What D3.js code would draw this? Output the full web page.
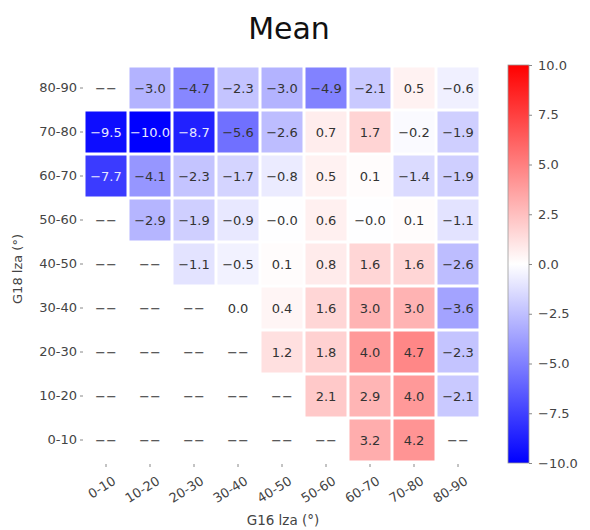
<!DOCTYPE html>
<html><head><meta charset="utf-8">
<script src="https://cdn.jsdelivr.net/npm/d3@7"></script>
<style>body{margin:0;background:#fff}svg{display:block}text{font-family:"DejaVu Sans",sans-serif}</style>
</head><body><svg id="c" width="590" height="530"></svg>
<script>
const xCats = ["0-10","10-20","20-30","30-40","40-50","50-60","60-70","70-80","80-90"];
const yCats = ["80-90","70-80","60-70","50-60","40-50","30-40","20-30","10-20","0-10"];
const row80_90 = [null,-3.0,-4.7,-2.3,-3.0,-4.9,-2.1,0.5,-0.6];
const row70_80 = [-9.5,-10.0,-8.7,-5.6,-2.6,0.7,1.7,-0.2,-1.9];
const row60_70 = [-7.7,-4.1,-2.3,-1.7,-0.8,0.5,0.1,-1.4,-1.9];
const row50_60 = [null,-2.9,-1.9,-0.9,-0.02,0.6,-0.02,0.1,-1.1];
const row40_50 = [null,null,-1.1,-0.5,0.1,0.8,1.6,1.6,-2.6];
const row30_40 = [null,null,null,0.0,0.4,1.6,3.0,3.0,-3.6];
const row20_30 = [null,null,null,null,1.2,1.8,4.0,4.7,-2.3];
const row10_20 = [null,null,null,null,null,2.1,2.9,4.0,-2.1];
const row0_10 = [null,null,null,null,null,null,3.2,4.2,null];
const rows = [row80_90,row70_80,row60_70,row50_60,row40_50,row30_40,row20_30,row10_20,row0_10];
const cbTicks = [10.0,7.5,5.0,2.5,0.0,-2.5,-5.0,-7.5,-10.0];
const title = "Mean", xLabel = "G16 lza (°)", yLabel = "G18 lza (°)";

const svg = d3.select("#c");
const L=84,R=480,T=66,B=462;
const x = d3.scaleBand().domain(xCats).range([L,R]);
const y = d3.scaleBand().domain(yCats).range([T,B]);
const color = d3.scaleLinear().domain([-10,0,10]).range(["#0000ff","#ffffff","#ff0000"]);
const fmt = v => (v<0?"\u2212":"") + Math.abs(v).toFixed(1);

const cells = [];
rows.forEach((r,i)=>r.forEach((v,j)=>cells.push({xc:xCats[j],yc:yCats[i],v})));
const g = svg.append("g");
g.selectAll("rect").data(cells.filter(d=>d.v!==null)).join("rect")
 .attr("x",d=>x(d.xc)+1.5).attr("y",d=>y(d.yc)+1.5)
 .attr("width",x.bandwidth()-3).attr("height",y.bandwidth()-3)
 .attr("fill",d=>color(d.v));
g.selectAll("text").data(cells).join("text")
 .attr("x",d=>x(d.xc)+x.bandwidth()/2).attr("y",d=>y(d.yc)+y.bandwidth()/2)
 .attr("dy","0.35em").attr("text-anchor","middle").attr("font-size",13)
 .attr("fill",d=>d.v!==null && d.v<=-7 ? "#e8e8ff" : "#333")
 .text(d=>d.v===null?"\u2212\u2212":fmt(d.v));

// axes
const ya = svg.append("g").attr("transform",`translate(${L-1},0)`)
 .call(d3.axisLeft(y).tickSize(3).tickPadding(3));
ya.select(".domain").remove();
ya.selectAll("line").attr("stroke","#888");
ya.selectAll("text").attr("font-size",13).attr("fill","#444").style("font-family","DejaVu Sans");
const xa = svg.append("g").attr("transform",`translate(0,${B+2})`)
 .call(d3.axisBottom(x).tickSize(3).tickPadding(4));
xa.select(".domain").remove();
xa.selectAll("line").attr("stroke","#888");
xa.selectAll("text").attr("font-size",13).attr("fill","#444").style("font-family","DejaVu Sans")
 .attr("text-anchor","end").attr("dy","0.3em").attr("transform","translate(5,10) rotate(-32)");

svg.append("text").attr("x",289).attr("y",39).attr("text-anchor","middle").attr("font-size",30).attr("fill","#111").text(title);
svg.append("text").attr("x",283).attr("y",525).attr("text-anchor","middle").attr("font-size",13.5).attr("fill","#444").text(xLabel);
svg.append("text").attr("transform","translate(22,269) rotate(-90)").attr("text-anchor","middle").attr("font-size",13).attr("fill","#444").text(yLabel);

// colorbar
const cbX=508, cbW=21, cbT=65, cbB=463;
const cy = d3.scaleLinear().domain([-10,10]).range([cbB,cbT]);
const defs = svg.append("defs");
const grad = defs.append("linearGradient").attr("id","cb").attr("x1",0).attr("x2",0).attr("y1",1).attr("y2",0);
grad.selectAll("stop").data([-10,0,10]).join("stop")
 .attr("offset",d=>(d+10)/20).attr("stop-color",d=>color(d));
svg.append("rect").attr("x",cbX).attr("y",cbT).attr("width",cbW).attr("height",cbB-cbT)
 .attr("fill","url(#cb)").attr("stroke","#999").attr("stroke-width",0.8);
const ca = svg.append("g").attr("transform",`translate(${cbX+cbW},0)`)
 .call(d3.axisRight(cy).tickValues(cbTicks).tickSize(3).tickPadding(6).tickFormat(fmt));
ca.select(".domain").remove();
ca.selectAll("line").attr("stroke","#888");
ca.selectAll("text").attr("font-size",13).attr("fill","#444").style("font-family","DejaVu Sans");
</script></body></html>
